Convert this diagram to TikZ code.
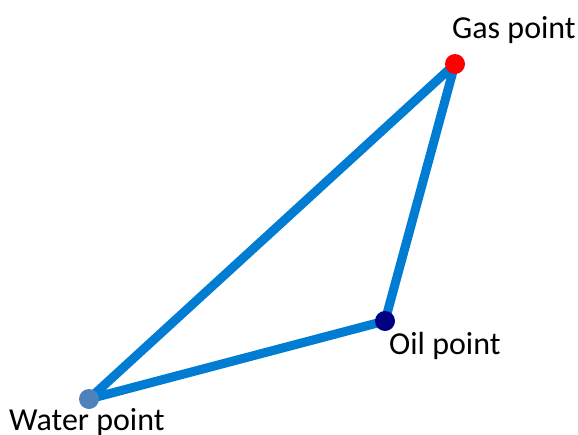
\documentclass[tikz,border=0pt]{standalone}
\usepackage{fontspec}
\setmainfont{Carlito}
\usepackage{xcolor}
\usetikzlibrary{backgrounds}
\definecolor{edgeblue}{RGB}{0,125,210}
\definecolor{gasred}{RGB}{255,0,0}
\definecolor{oilnavy}{RGB}{0,0,128}
\definecolor{waterblue}{RGB}{79,129,189}
\tikzset{
  pt/.style={circle, inner sep=0pt, minimum size=20pt},
  edge/.style={draw=edgeblue, line width=9pt, line join=round},
  lbl/.style={anchor=base west, inner sep=0pt, font=\fontsize{32}{38}\selectfont}
}

\begin{document}
\begin{tikzpicture}[x=1pt, y=-1pt]
\useasboundingbox (0,0) rectangle (578,434);
\node[pt, fill=gasred] (gas) at (455,64) {};
\node[pt, fill=oilnavy] (oil) at (385,321) {};
\node[pt, fill=waterblue] (water) at (89,399) {};
\begin{scope}[on background layer]
\draw[edge] (water.center) -- (gas.center) -- (oil.center) -- cycle;
\end{scope}
\node[lbl] (gaslbl) at (452,38) {Gas point};
\node[lbl] (oillbl) at (389,354) {Oil point};
\node[lbl] (waterlbl) at (9,430) {Water point};
\end{tikzpicture}
\end{document}
